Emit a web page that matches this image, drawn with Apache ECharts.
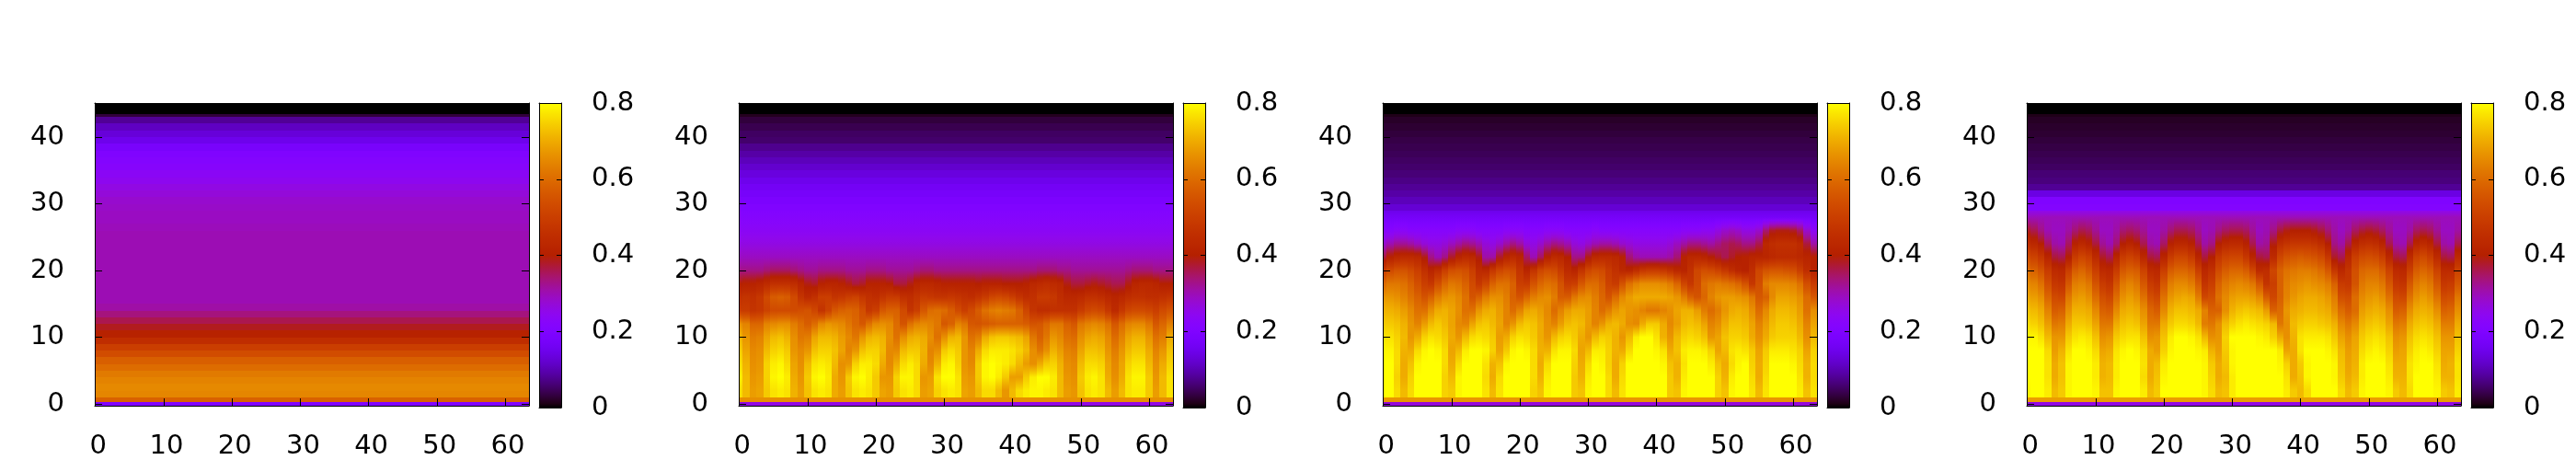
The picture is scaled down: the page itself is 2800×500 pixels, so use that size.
<!DOCTYPE html>
<html>
<head>
<meta charset="utf-8">
<title>heat maps</title>
<script src="https://cdn.jsdelivr.net/npm/echarts@6/dist/echarts.min.js"></script>
<style>
html, body { margin: 0; background: #fff; }
#chart { width: 2800px; height: 500px; }
</style>
</head>
<body>
<div id="chart"></div>
<script>
var xTicks = [0, 10, 20, 30, 40, 50, 60];
var yTicks = [0, 10, 20, 30, 40];
var cbTicks = [0, 0.2, 0.4, 0.6, 0.8];

// row edges along y, values below are read per row (percent of 1.0)
var rowEdges1 = [-0.3, 0.25, 1, 2, 3, 4, 5, 6, 7, 8, 9, 10, 11, 12, 13, 14, 15, 16, 17, 18, 19, 20, 21, 22, 23, 24, 25, 26, 27, 28, 29, 30, 31, 32, 33, 34, 35, 36, 37, 38, 39, 40, 41, 42, 43, 43.5, 45];
var rowEdges = [-0.3, 0.25, 1, 3, 5, 7, 9, 11, 13, 15, 17, 19, 21, 23, 25, 27, 29, 30, 31, 32, 33, 34, 35, 36, 37, 38, 39, 40, 41, 42, 43, 43.5, 45];

// a plain number is a row with the same value all the way across
var heat1 = [20, 58, 64.5, 65, 64, 62.5, 60, 57.5, 53.5, 50, 45, 41, 38.5, 36, 33.5, 31, 30, 30, 30, 30, 30, 30, 30, 30, 30, 30, 30, 29.5, 29, 29, 28.5, 28, 27, 26, 24.5, 23.5, 22, 21, 20, 18, 15, 13, 11, 8, 3, 0];

var heat2 = [
    26, 66,
    [76,72,68,69,74,77,78,77,71,68, 73,77,78,77,70,68,73,77,78,77, 74,69,68,74,77,78,76,68,69,75, 77,78,77,69,68,72,76,76,72,67, 72,76,78,79,79,78,77,72,68,67, 73,77,78,77,72,68,72,77,78,78, 74,68,72,77],
    [78,72,67,68,75,79,80,78,70,67, 74,79,80,78,70,67,74,79,80,78, 74,67,67,75,79,79,76,67,68,77, 80,80,77,68,67,74,79,80,78,74, 68,68,74,78,80,80,78,72,67,66, 74,78,79,77,70,66,70,77,79,79, 74,67,72,77],
    [76,71,66,67,75,78,79,76,69,66, 72,77,78,77,72,66,67,75,78,78, 76,70,65,70,76,78,76,70,65,71, 78,79,75,67,65,74,79,80,79,78, 76,72,68,66,70,74,75,71,66,65, 72,76,76,75,69,65,69,75,77,77, 72,66,70,75],
    [74,69,65,66,72,75,76,74,67,65, 67,73,75,75,73,69,64,67,73,75, 75,72,65,65,72,74,74,71,64,66, 74,76,74,67,64,70,76,78,78,78, 77,75,72,66,62,66,71,68,64,63, 69,73,73,72,67,63,67,72,74,74, 70,64,67,73],
    [71,67,63,64,69,72,73,71,66,62, 63,69,72,72,71,68,65,62,67,71, 72,71,66,61,66,70,71,70,66,61, 66,71,72,67,61,63,70,73,74,74, 73,72,69,62,58,62,67,65,61,60, 66,69,70,69,65,60,64,69,71,71, 67,61,63,70],
    [66,64,59,59,64,65,66,66,63,60, 57,60,65,67,66,65,62,59,56,61, 65,66,65,60,55,61,64,65,64,62, 56,58,64,62,56,55,56,57,58,58, 58,58,57,55,56,59,62,62,58,56, 62,64,65,64,61,56,60,64,65,65, 62,56,59,63],
    [49,49,47,48,51,53,53,53,53,54, 55,52,47,51,56,58,59,58,54,48, 50,56,58,58,53,47,50,56,60,61, 60,57,53,50,53,57,61,63,64,63, 62,58,52,47,45,45,46,46,46,46, 49,52,53,52,48,44,48,52,53,53, 52,50,53,55],
    [46,47,46,48,53,57,58,57,53,47, 44,46,50,50,47,48,50,51,48,46, 45,47,49,49,46,45,47,49,48,47, 47,48,47,46,45,47,49,52,53,52, 50,47,45,46,49,49,48,45,43,43, 44,46,46,45,43,42,43,45,46,46, 45,45,46,47],
    [40,41,41,42,44,46,46,46,45,42, 39,38,41,42,42,41,39,37,38,41, 41,41,40,37,37,39,42,43,43,42, 41,41,41,41,41,40,41,41,41,40, 40,40,41,43,44,45,44,43,39,37, 37,38,39,38,37,36,36,39,42,43, 43,42,40,40],
    [33,33,33,33,34,35,35,35,34,33, 32,32,33,33,33,33,32,32,32,33, 33,33,32,32,32,32,33,34,34,33, 33,33,33,33,33,33,33,33,33,33, 33,33,33,33,34,34,34,33,33,32, 32,32,32,32,32,32,32,33,34,34, 34,33,33,33],
    29, 26, 23.5, 21.5,
    20, 19, 17.5, 16.5, 15, 13.5, 12, 10.5, 9, 7.5, 5.5, 5, 4, 3, 1.5, 0
];

var heat3 = [
    27, 67,
    [80,80,76,72,76,80,80,80,80,75, 74,79,80,80,80,77,72,77,80,80, 80,80,75,73,79,80,80,80,74,73, 79,80,80,76,72,77,80,80,80,80, 80,80,74,73,79,80,80,80,80,75, 73,79,80,80,77,72,77,80,80,80, 80,78,73,77],
    [80,80,75,70,75,80,80,80,80,75, 72,79,80,80,80,76,70,76,80,80, 80,80,76,71,78,80,80,80,74,71, 78,80,80,76,70,76,80,80,80,80, 80,80,74,71,78,80,80,80,80,75, 71,78,80,80,76,70,76,80,80,80, 80,77,71,76],
    [80,80,76,70,73,79,80,80,80,76, 70,76,80,80,80,77,71,73,79,80, 80,80,76,70,76,80,80,80,75,70, 76,80,79,75,70,75,80,80,80,80, 80,79,73,71,77,80,80,80,78,73, 70,76,79,80,75,70,75,80,80,80, 79,76,71,76],
    [79,79,76,71,70,76,79,80,79,76, 69,72,78,80,80,79,75,69,74,79, 80,79,76,71,71,77,79,79,76,69, 72,78,78,75,71,70,76,80,80,80, 79,77,70,73,78,79,79,78,75,69, 72,77,78,77,74,69,74,78,78,78, 77,75,69,75],
    [77,77,75,72,67,70,75,77,76,74, 70,67,72,76,77,76,74,68,70,75, 77,76,74,70,67,72,75,76,74,70, 67,72,75,74,71,67,72,78,80,80, 77,71,67,72,75,76,75,73,67,69, 73,75,75,74,70,66,70,74,75,75, 75,72,66,72],
    [74,74,73,71,67,64,68,72,74,72, 69,65,64,69,73,74,72,69,64,67, 72,74,73,70,66,64,68,72,73,72, 68,64,67,71,72,70,66,65,70,74, 74,70,65,68,72,73,72,69,64,66, 70,73,73,72,69,64,68,72,74,74, 73,70,64,69],
    [71,71,70,68,65,61,61,66,70,71, 69,66,61,61,67,70,71,68,64,60, 64,69,70,68,65,60,64,68,70,70, 68,64,60,63,67,69,67,66,64,62, 62,64,66,69,71,71,68,63,60,63, 67,70,71,70,66,60,65,70,72,72, 71,68,61,66],
    [67,67,66,64,61,58,55,58,63,66, 67,65,61,55,58,63,66,66,63,58, 55,59,63,65,66,63,57,57,62,65, 66,63,59,55,60,65,68,70,70,70, 70,70,69,67,63,58,55,59,64,67, 68,68,67,66,62,56,58,65,69,69, 68,66,60,56],
    [60,62,62,61,58,54,50,48,54,59, 62,61,58,53,48,52,58,61,61,58, 50,49,55,59,61,60,55,49,50,56, 60,60,57,51,49,55,61,64,66,66, 66,65,63,59,52,48,53,60,62,63, 62,61,59,55,48,54,63,65,65,65, 64,61,54,49],
    [50,53,55,55,53,50,46,42,45,50, 54,55,54,50,44,43,48,52,54,53, 47,42,47,52,54,53,49,44,42,47, 52,54,53,49,46,43,42,45,48,49, 49,48,46,43,42,46,52,54,53,51, 48,45,42,41,45,52,55,56,56,55, 54,50,45,41],
    [37,41,43,44,44,43,39,33,30,33, 38,42,44,43,39,31,31,38,42,44, 42,35,30,35,41,44,43,40,33,33, 39,43,44,44,43,41,34,31,30,30, 30,30,31,34,41,43,43,42,40,38, 36,38,40,41,42,42,42,43,44,44, 44,43,42,41],
    [28,30,32,32,31,29,27,26,26,27, 29,31,33,32,30,27,26,28,31,33, 31,27,26,28,31,33,32,30,27,26, 28,30,31,31,30,28,27,26,26,26, 26,26,27,29,31,33,33,32,31,33, 35,36,35,33,33,36,43,45,46,46, 46,44,37,31],
    [22,22,23,23,22,22,22,22,22,22, 22,23,23,23,22,22,22,22,23,23, 23,22,22,22,23,23,23,22,22,22, 22,23,22,22,22,22,22,22,22,22, 22,22,22,22,23,23,23,24,24,26, 28,29,28,26,26,28,34,38,39,39, 38,35,28,24],
    17,
    12.5, 10.5, 9, 8, 7, 6.2, 5.5, 5, 4.5, 4, 3.6, 3, 2.5, 2, 1.2, 0
];

var heat4 = [
    26, 68,
    [79,80,80,78,72,74,79,80,80,80, 79,73,73,79,80,80,80,78,72,74, 80,80,80,80,80,80,79,76,72,73, 78,80,80,80,80,80,80,80,78,74, 72,76,80,80,80,80,76,72,74,79, 80,80,80,79,74,72,76,80,80,80, 79,74,73,78],
    [80,80,80,77,70,73,79,80,80,80, 78,71,72,78,80,80,80,76,70,73, 79,80,80,80,80,80,79,75,70,72, 78,80,80,80,80,80,80,80,77,70, 73,79,80,80,80,79,74,70,72,78, 80,80,80,78,71,71,77,80,80,80, 78,71,71,77],
    [80,80,80,77,70,73,79,80,80,80, 78,71,72,78,80,80,80,77,70,72, 78,80,80,80,80,80,79,74,70,73, 79,80,80,80,80,80,80,79,75,70, 74,79,80,80,80,79,73,69,71,78, 80,80,80,77,70,70,77,79,80,80, 77,70,71,77],
    [80,80,80,76,68,71,77,80,80,79, 76,69,70,77,79,80,79,76,70,68, 75,79,80,80,80,79,78,71,68,74, 79,80,80,80,80,80,80,78,69,70, 77,80,80,80,79,77,72,68,70,76, 78,79,78,75,68,69,75,78,79,78, 75,69,69,75],
    [79,79,77,72,67,67,74,77,78,77, 73,66,67,74,76,77,77,73,66,67, 73,78,80,80,79,77,72,66,67,75, 80,80,80,80,79,78,75,70,66,71, 77,78,78,78,77,74,69,66,69,74, 76,77,76,73,66,67,73,76,77,76, 73,67,67,73],
    [76,75,73,68,62,63,70,74,74,73, 69,62,62,70,73,74,73,69,62,62, 70,74,76,76,75,72,63,62,66,72, 75,77,78,77,76,75,72,62,66,72, 74,75,75,74,73,71,65,62,65,71, 73,74,73,69,62,63,70,73,74,73, 70,63,63,70],
    [73,72,70,64,57,58,66,71,71,70, 65,58,57,65,70,71,70,66,59,57, 65,71,73,73,72,70,64,58,58,66, 71,73,74,73,72,68,58,60,67,70, 71,72,72,71,70,66,60,57,60,68, 70,71,70,66,57,58,66,70,71,70, 66,58,59,66],
    [69,68,66,59,53,52,62,67,68,66, 60,54,52,60,66,68,66,61,54,52, 61,67,69,70,69,63,52,54,61,65, 68,69,69,68,65,57,52,58,64,67, 69,70,70,69,67,63,54,53,60,65, 67,68,66,61,53,52,61,66,68,66, 61,53,54,62],
    [65,64,61,54,48,47,56,63,64,62, 55,49,47,55,62,64,62,56,49,47, 56,63,65,65,63,57,47,50,58,62, 64,65,64,62,56,47,50,58,63,65, 66,67,66,65,63,58,49,48,55,62, 64,64,62,56,48,47,56,62,64,62, 56,48,49,56],
    [60,58,55,49,44,43,50,57,59,56, 50,44,43,49,56,58,57,51,44,43, 50,57,59,59,57,50,43,46,53,57, 59,59,57,52,44,45,52,58,61,62, 63,63,62,60,56,48,43,47,54,59, 60,60,57,51,44,43,50,57,59,57, 51,44,44,51],
    [53,51,48,42,37,36,40,49,52,50, 44,38,36,42,49,51,49,43,37,36, 42,49,52,52,49,42,37,40,48,51, 52,52,48,42,37,36,44,52,55,56, 57,56,55,53,48,38,36,43,50,53, 54,53,50,43,37,36,44,51,53,50, 44,37,36,44],
    [45,43,40,35,31,30,35,41,43,41, 37,32,30,34,40,42,40,36,31,30, 35,41,43,43,41,36,31,33,40,43, 44,44,41,36,31,32,39,45,47,48, 48,48,47,45,40,33,31,36,42,45, 46,45,42,36,31,30,36,42,44,42, 37,31,30,36],
    [38,36,33,30,29,29,31,34,36,35, 32,29,29,31,34,35,34,32,29,29, 31,34,36,36,35,32,29,30,33,35, 36,36,35,32,29,30,33,37,39,40, 40,40,39,37,34,31,29,31,35,37, 38,37,35,32,29,29,31,35,36,35, 32,29,29,31],
    29.5,
    21, 20, 14, 8, 6.5, 6, 5, 4.5, 4, 3.5, 3, 2.5, 2.2, 1.8, 1.2, 0
];

var panels = [
    { rows: heat1, edges: rowEdges1 },
    { rows: heat2, edges: rowEdges },
    { rows: heat3, edges: rowEdges },
    { rows: heat4, edges: rowEdges }
];

var FONT = "DejaVu Sans";
var NCOLS = 64;

// gnuplot default pm3d palette (7,5,15), cbrange 0..0.8
function paletteColor(v) {
    var x = Math.max(0, Math.min(1, v / 0.8));
    var r = Math.sqrt(x);
    var g = x * x * x;
    var b = Math.max(0, Math.sin(2 * Math.PI * x));
    return "rgb(" + Math.round(r * 255) + "," + Math.round(g * 255) + "," + Math.round(b * 255) + ")";
}

function rowValue(rows, r, c) {
    var val = typeof rows[r] == "number" ? rows[r] : rows[r][c];
    return val / 100;
}

function cellData(rows, edges) {
    var data = [];
    for (var r = 0; r < rows.length; r++) {
        var yMid = (edges[r] + edges[r + 1]) / 2;
        for (var c = 0; c < NCOLS; c++) {
            data.push([c, yMid, rowValue(rows, r, c), r]);
        }
    }
    return data;
}

// tall cells fade into the rows above and below instead of a hard step
function cellFill(rows, edges, r, c, v) {
    if (edges[r + 1] - edges[r] < 2) {
        return paletteColor(v);
    }
    var below = r > 2 ? (v + rowValue(rows, r - 1, c)) / 2 : v;
    var above = (v + rowValue(rows, r + 1, c)) / 2;
    return new echarts.graphic.LinearGradient(0, 1, 0, 0, [
        { offset: 0, color: paletteColor(below) },
        { offset: 0.25, color: paletteColor((below + v) / 2) },
        { offset: 0.5, color: paletteColor(v) },
        { offset: 0.75, color: paletteColor((above + v) / 2) },
        { offset: 1, color: paletteColor(above) }
    ]);
}

function makeRenderItem(rows, edges) {
    return function(params, api) {
        var c = api.value(0);
        var r = api.value(3);
        var p0 = api.coord([c - 0.5, edges[r + 1]]);
        var p1 = api.coord([c + 0.5, edges[r]]);
        var x0 = Math.round(p0[0]);
        var y0 = Math.round(p0[1]);
        return {
            type: "rect",
            shape: { x: x0, y: y0, width: Math.round(p1[0]) - x0, height: Math.round(p1[1]) - y0 },
            style: { fill: cellFill(rows, edges, r, c, api.value(2)) }
        };
    };
}

var stops = [];
for (var s = 0; s <= 80; s++) {
    stops.push({ offset: s / 80, color: paletteColor(s / 100) });
}

var blackLine = { show: true, onZero: false, lineStyle: { color: "#000", width: 1 } };
var labelStyle = { show: true, color: "#000", fontFamily: FONT, fontSize: 29 };

var grids = [], xAxes = [], yAxes = [], series = [];

for (var p = 0; p < panels.length; p++) {
    var off = 700 * p;

    // heat map
    var gi = grids.length;
    grids.push({ left: 103 + off, top: 112, width: 472, height: 331 });
    var xi = xAxes.length, yi = yAxes.length;
    xAxes.push({
        type: "value", gridIndex: gi, min: -0.1, max: 63.5, position: "bottom", z: 5,
        axisLine: blackLine, splitLine: { show: false },
        axisTick: { show: true, inside: true, length: 8, customValues: xTicks, lineStyle: { color: "#000", width: 1 } },
        axisLabel: Object.assign({ margin: 30, padding: [0, 0, 0, 6], customValues: xTicks }, labelStyle)
    });
    xAxes.push({
        type: "value", gridIndex: gi, min: -0.1, max: 63.5, position: "top", z: 5,
        axisLine: blackLine, splitLine: { show: false },
        axisTick: { show: true, inside: true, length: 8, customValues: xTicks, lineStyle: { color: "#000", width: 1 } },
        axisLabel: { show: false }
    });
    yAxes.push({
        type: "value", gridIndex: gi, min: -0.25, max: 45.1, position: "left", z: 5,
        axisLine: blackLine, splitLine: { show: false },
        axisTick: { show: true, inside: true, length: 8, customValues: yTicks, lineStyle: { color: "#000", width: 1 } },
        axisLabel: Object.assign({ margin: 33, customValues: yTicks }, labelStyle)
    });
    yAxes.push({
        type: "value", gridIndex: gi, min: -0.25, max: 45.1, position: "right", z: 5,
        axisLine: blackLine, splitLine: { show: false },
        axisTick: { show: true, inside: true, length: 8, customValues: yTicks, lineStyle: { color: "#000", width: 1 } },
        axisLabel: { show: false }
    });
    series.push({
        type: "custom",
        xAxisIndex: xi,
        yAxisIndex: yi,
        clip: true,
        silent: true,
        animation: false,
        progressive: 0,
        encode: { x: 0, y: 1 },
        data: cellData(panels[p].rows, panels[p].edges),
        renderItem: makeRenderItem(panels[p].rows, panels[p].edges)
    });

    // colour box
    var gc = grids.length;
    grids.push({ left: 586 + off, top: 112, width: 24, height: 331 });
    var xc = xAxes.length, yc = yAxes.length;
    xAxes.push({
        type: "category", gridIndex: gc, data: ["cb"], position: "bottom", z: 5,
        axisLine: blackLine, axisTick: { show: false }, axisLabel: { show: false }
    });
    xAxes.push({
        type: "category", gridIndex: gc, data: ["cb"], position: "top", z: 5,
        axisLine: blackLine, axisTick: { show: false }, axisLabel: { show: false }
    });
    yAxes.push({
        type: "value", gridIndex: gc, min: 0, max: 0.8, position: "right", z: 5,
        axisLine: blackLine, splitLine: { show: false },
        axisTick: { show: true, inside: true, length: 5, customValues: cbTicks, lineStyle: { color: "#000", width: 1 } },
        axisLabel: Object.assign({ margin: 33, customValues: cbTicks }, labelStyle)
    });
    yAxes.push({
        type: "value", gridIndex: gc, min: 0, max: 0.8, position: "left", z: 5,
        axisLine: blackLine, splitLine: { show: false },
        axisTick: { show: true, inside: true, length: 5, customValues: cbTicks, lineStyle: { color: "#000", width: 1 } },
        axisLabel: { show: false }
    });
    series.push({
        type: "bar",
        xAxisIndex: xc,
        yAxisIndex: yc,
        silent: true,
        animation: false,
        barWidth: "100%",
        data: [0.8],
        itemStyle: { color: new echarts.graphic.LinearGradient(0, 1, 0, 0, stops) }
    });
}

var myChart = echarts.init(document.getElementById("chart"));
myChart.setOption({
    animation: false,
    backgroundColor: "#fff",
    grid: grids,
    xAxis: xAxes,
    yAxis: yAxes,
    series: series
});
</script>
</body>
</html>
